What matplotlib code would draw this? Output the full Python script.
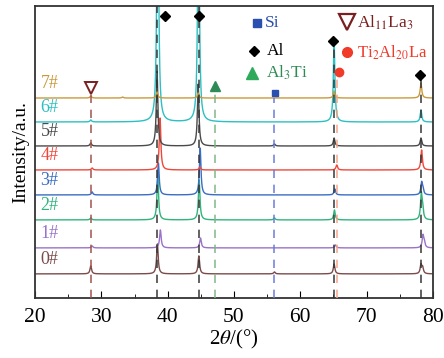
import numpy as np
import matplotlib
matplotlib.use("Agg")
import matplotlib.pyplot as plt

plt.rcParams["font.family"] = ["Liberation Serif", "DejaVu Serif"]
plt.rcParams["mathtext.fontset"] = "stix"

samples = ["0#", "1#", "2#", "3#", "4#", "5#", "6#", "7#"]
colors = ["#7b4b4b", "#9a72c8", "#2fb57c", "#3a6dc3", "#f0473b", "#4a4a4a", "#2dbfc3", "#c99a3d"]
offsets = [24, 50, 78, 103, 128, 152, 176, 200]

# peak positions (2theta) and heights (a.u.) per sample
peak_pos = [
    [28.4, 38.45, 44.7, 56.1, 65.1, 78.2, 78.45],
    [28.6, 38.9, 44.95, 65.3, 78.5, 78.7],
    [28.4, 38.5, 44.75, 56.1, 65.15, 78.25, 78.45],
    [28.6, 38.6, 44.9, 65.2, 78.3, 78.5],
    [28.6, 38.85, 44.85, 65.5, 78.3],
    [28.4, 38.4, 44.6, 56.1, 65.1, 78.2],
    [28.4, 38.5, 44.65, 65.1, 78.2],
    [28.4, 33.2, 38.4, 44.6, 65.1, 78.2],
]
peak_h = [
    [8, 30, 18, 2, 10, 9, 6],
    [2, 18, 10, 3, 12, 5],
    [2, 45, 40, 2, 10, 25, 10],
    [3, 32, 47, 6, 12, 5],
    [2, 52, 3, 5, 20],
    [3, 75, 62, 2, 8, 8],
    [2, 320, 270, 80, 12],
    [2, 1, 6, 5, 7, 15],
]

ref_pos = [28.4, 38.4, 44.7, 47.1, 56.1, 65.1, 65.6, 78.2]
ref_top = [205, 292, 292, 207, 200, 258, 222, 222]
ref_col = ["#a0504a", "#333333", "#333333", "#7fb585", "#6a7ad8", "#333333", "#f6a58a", "#333333"]

x = np.linspace(20, 80, 6000)
w = 0.14

fig = plt.figure(figsize=(4.44, 3.58), dpi=100)
ax = fig.add_axes([0.079, 0.168, 0.896, 0.815])

for i in range(len(samples)):
    y = np.full_like(x, offsets[i], dtype=float)
    for p, h in zip(peak_pos[i], peak_h[i]):
        y += h * w**2 / ((x - p) ** 2 + w**2)
    ax.plot(x, y, color=colors[i], lw=1.0, zorder=2)
    ax.text(20.8, offsets[i] + 6, samples[i], color=colors[i], fontsize=13,
            va="bottom", ha="left")

for p, t, c in zip(ref_pos, ref_top, ref_col):
    ax.plot([p, p], [0, t], ls=(0, (5, 4)), color=c, lw=1.2, alpha=0.9, zorder=3)

# markers on peaks
ax.plot([39.6, 44.7, 65.0, 78.1], [282, 282, 257, 223], "D", color="black", ms=5, zorder=4)
ax.plot([28.4], [210], "v", mfc="none", mec="#7a1f1f", mew=1.4, ms=8, zorder=4)
ax.plot([47.2], [212], "^", color="#2e8b57", ms=7, zorder=4)
ax.plot([56.2], [205], "s", color="#2b4fb0", ms=5, zorder=4)
ax.plot([65.85], [226], "o", color="#f03a2a", ms=6, zorder=4)

# legend keys
ax.plot([53.5], [275], "s", color="#2b4fb0", ms=6)
ax.text(54.6, 275, "Si", color="#2b4fb0", fontsize=12.5, va="center")
ax.plot([53.0], [247], "D", color="black", ms=5.5)
ax.text(54.9, 247, "Al", color="black", fontsize=12.5, va="center")
ax.plot([52.7], [225], "^", color="#2eaa5a", ms=8)
ax.text(54.9, 225, r"Al$_3$Ti", color="#2e8b57", fontsize=12.5, va="center")
ax.plot([67.1], [276], "v", mfc="none", mec="#7a1f1f", mew=1.6, ms=11)
ax.text(68.6, 275, r"Al$_{11}$La$_3$", color="#7a1f1f", fontsize=12.5, va="center")
ax.plot([67.1], [246], "o", color="#f03a2a", ms=7)
ax.text(68.5, 245, r"Ti$_2$Al$_{20}$La", color="#f03a2a", fontsize=12, va="center")

ax.set_xlim(20, 80)
ax.set_ylim(0, 292)
ax.set_xticks([20, 30, 40, 50, 60, 70, 80])
ax.set_xticks(np.arange(25, 80, 10), minor=True)
ax.set_yticks([])
ax.tick_params(axis="x", which="both", direction="in", labelsize=15.5, pad=7)
ax.tick_params(axis="x", which="major", length=5)
ax.tick_params(axis="x", which="minor", length=3)
for s in ax.spines.values():
    s.set_linewidth(1.3)
    s.set_color("#333333")
ax.set_xlabel(r"2$\theta$/(°)", fontsize=15, labelpad=1)
ax.set_ylabel("Intensity/a.u.", fontsize=14, labelpad=4)

fig.savefig("out.png", dpi=100)
